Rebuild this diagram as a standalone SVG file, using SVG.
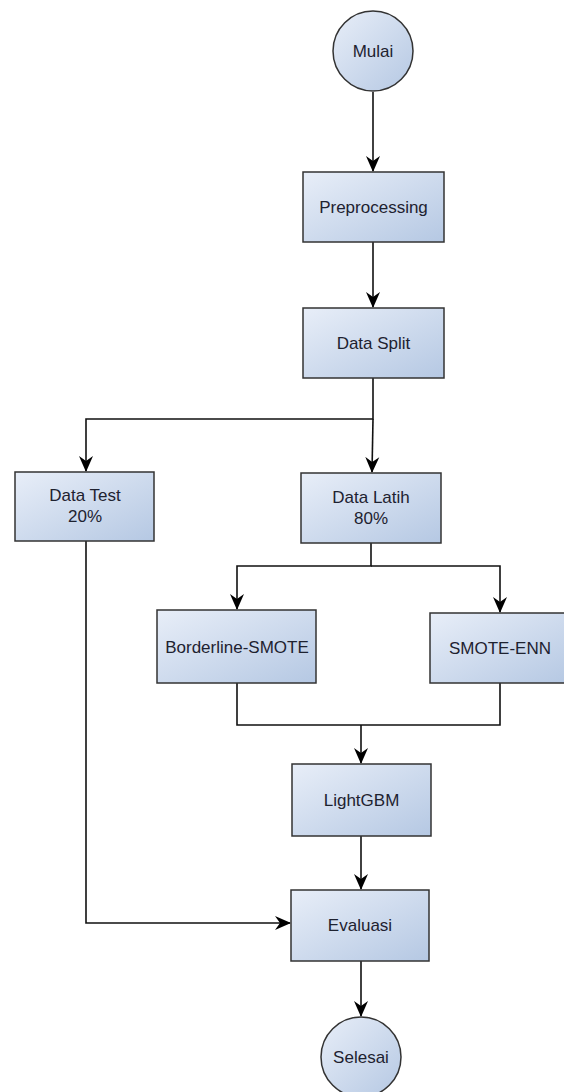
<svg xmlns="http://www.w3.org/2000/svg" width="564" height="1092" viewBox="0 0 564 1092">
<style>
.box{fill:url(#g);stroke:#333;stroke-width:1.5}
.t{font-family:"Liberation Sans",Arial,sans-serif;font-size:17px;fill:#1e2230;text-anchor:middle;dominant-baseline:central}
.c{fill:none;stroke:#111;stroke-width:1.6}
</style>
<defs>
<linearGradient id="g" x1="0" y1="0" x2="1" y2="1">
<stop offset="0" stop-color="#e8eef8"/>
<stop offset="1" stop-color="#b5c8e3"/>
</linearGradient>
<marker id="a" viewBox="0 0 16 16" refX="15" refY="8" markerWidth="16" markerHeight="16" markerUnits="userSpaceOnUse" orient="auto">
<path d="M0,1 L16,8 L0,15 L5,8 Z" fill="#000"/>
</marker>
</defs>
<g id="connectors">
<path class="c" d="M373,92 V171" marker-end="url(#a)"/>
<path class="c" d="M373,242 V307" marker-end="url(#a)"/>
<path class="c" d="M373,378 V419 H86 V471" marker-end="url(#a)"/>
<path class="c" d="M373,419 L372,472" marker-end="url(#a)"/>
<path class="c" d="M371,543 V566 H237 V609" marker-end="url(#a)"/>
<path class="c" d="M371,566 H500 V612" marker-end="url(#a)"/>
<path class="c" d="M237,683 V725 H500 V683"/>
<path class="c" d="M361,725 V763" marker-end="url(#a)"/>
<path class="c" d="M361,836 V889" marker-end="url(#a)"/>
<path class="c" d="M86,541 V923 H290" marker-end="url(#a)"/>
<path class="c" d="M361,961 V1016" marker-end="url(#a)"/>
</g>
<g id="mulai"><circle class="box" cx="373" cy="51" r="40"/><text class="t" x="373" y="51">Mulai</text></g>
<g id="preprocessing"><rect class="box" x="303" y="172" width="141" height="70"/><text class="t" x="373.5" y="207">Preprocessing</text></g>
<g id="datasplit"><rect class="box" x="303" y="308" width="141" height="70"/><text class="t" x="373.5" y="343">Data Split</text></g>
<g id="datatest"><rect class="box" x="15" y="472" width="139" height="69"/><text class="t" x="85" y="495">Data Test</text><text class="t" x="85" y="516">20%</text></g>
<g id="datalatih"><rect class="box" x="301" y="473" width="140" height="70"/><text class="t" x="371" y="497">Data Latih</text><text class="t" x="371" y="518">80%</text></g>
<g id="borderline"><rect class="box" x="157" y="610" width="159" height="73"/><text class="t" x="237" y="647">Borderline-SMOTE</text></g>
<g id="smoteenn"><rect class="box" x="430" y="613" width="140" height="70"/><text class="t" x="500" y="648">SMOTE-ENN</text></g>
<g id="lightgbm"><rect class="box" x="292" y="764" width="139" height="72"/><text class="t" x="361.5" y="800">LightGBM</text></g>
<g id="evaluasi"><rect class="box" x="291" y="890" width="138" height="71"/><text class="t" x="360" y="925">Evaluasi</text></g>
<g id="selesai"><circle class="box" cx="361" cy="1057" r="40"/><text class="t" x="361" y="1057">Selesai</text></g>
</svg>
